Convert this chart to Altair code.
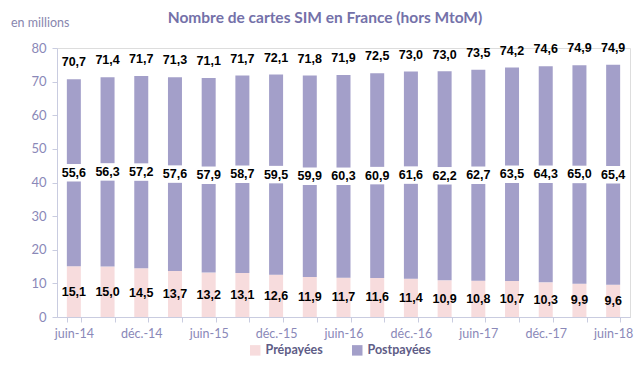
import altair as alt
import pandas as pd

periods = ["juin-14", "sept.-14", "déc.-14", "mars-15", "juin-15", "sept.-15", "déc.-15",
           "mars-16", "juin-16", "sept.-16", "déc.-16", "mars-17", "juin-17", "sept.-17",
           "déc.-17", "mars-18", "juin-18"]
shown_labels = ["juin-14", "déc.-14", "juin-15", "déc.-15", "juin-16", "déc.-16",
                "juin-17", "déc.-17", "juin-18"]
prepaid = [15.1, 15.0, 14.5, 13.7, 13.2, 13.1, 12.6, 11.9, 11.7, 11.6, 11.4, 10.9, 10.8, 10.7, 10.3, 9.9, 9.6]
postpaid = [55.6, 56.3, 57.2, 57.6, 57.9, 58.7, 59.5, 59.9, 60.3, 60.9, 61.6, 62.2, 62.7, 63.5, 64.3, 65.0, 65.4]
totals = [70.7, 71.4, 71.7, 71.3, 71.1, 71.7, 72.1, 71.8, 71.9, 72.5, 73.0, 73.0, 73.5, 74.2, 74.6, 74.9, 74.9]
y_ticks = [0, 10, 20, 30, 40, 50, 60, 70, 80]
series = ["Prépayées", "Postpayées"]
colors = ["#F7DCDD", "#A39FC9"]
title_text = "Nombre de cartes SIM en France (hors MtoM)"
unit_text = "en millions"

df = pd.DataFrame({"periode": periods, "Prépayées": prepaid, "Postpayées": postpaid, "total": totals})

label_font = "Lato"
axis_color = "#8A88B8"

xaxis = alt.Axis(
    labelAngle=0, tickBand="extent", labelFont=label_font, labelFontSize=12.5,
    labelColor=axis_color, domainColor="#C9CCE0", tickColor="#C9CCE0", tickSize=5,
    labelPadding=5,
    labelExpr="indexof(" + str(shown_labels) + ", datum.value) >= 0 ? datum.value : ''",
)
xscale = alt.Scale(paddingInner=0.58, paddingOuter=0.29)
yaxis = alt.Axis(values=y_ticks, tickCount=9, grid=False, labelFont=label_font,
                 labelFontSize=13, labelColor=axis_color, domainColor="#C9CCE0",
                 tickColor="#C9CCE0", tickSize=5, labelPadding=6,
                 labelOverlap=False, labelFlush=False)
yscale = alt.Scale(domain=[0, 80])


def X():
    return alt.X("periode:N", sort=periods, title=None, scale=xscale, axis=xaxis)


def Y(field, **kw):
    return alt.Y(field, scale=yscale, title=None, axis=yaxis, **kw)


base = alt.Chart(df)

bars = base.transform_fold(series, as_=["type", "val"]).transform_calculate(
    ord="datum.type == 'Prépayées' ? 0 : 1"
).mark_bar(size=14).encode(
    x=X(),
    y=Y("val:Q", stack="zero"),
    color=alt.Color("type:N", scale=alt.Scale(domain=series, range=colors),
                    legend=alt.Legend(title=None, orient="none", direction="horizontal",
                                      legendX=192, legendY=296, symbolType="square",
                                      symbolSize=110, symbolStrokeWidth=0,
                                      labelFont=label_font, labelFontSize=12.5,
                                      labelFontWeight="bold", labelColor="#5E5C86",
                                      columnPadding=28)),
    order=alt.Order("ord:Q"),
)

calc = base.transform_calculate(
    mid="datum['Prépayées'] + datum['Postpayées'] / 2",
    lo="datum['Prépayées'] + datum['Postpayées'] / 2 - 2.6",
    hi="datum['Prépayées'] + datum['Postpayées'] / 2 + 2.6",
    pmid="datum['Prépayées'] / 2",
    tpost="replace(format(datum['Postpayées'], '.1f'), '.', ',')",
    tpre="replace(format(datum['Prépayées'], '.1f'), '.', ',')",
    ttot="replace(format(datum.total, '.1f'), '.', ',')",
)

boxes = calc.mark_bar(size=18, color="white").encode(x=X(), y=Y("lo:Q"), y2="hi:Q")

txt_style = dict(font="Liberation Sans", fontSize=12.5, fontWeight="bold", color="black", baseline="middle")

post_lbl = calc.mark_text(**txt_style).encode(x=X(), y=Y("mid:Q"), text="tpost:N")
pre_lbl = calc.mark_text(**txt_style).encode(x=X(), y=Y("pmid:Q"), text="tpre:N")
tot_lbl = calc.mark_text(dy=-17, **txt_style).encode(x=X(), y=Y("total:Q"), text="ttot:N")

title = alt.Chart(pd.DataFrame({"t": [title_text]})).mark_text(
    font="Lato", fontSize=15.5, fontWeight="bold", color="#7471A9", baseline="middle", align="center"
).encode(text="t:N", x=alt.value(268), y=alt.value(-30))

unit = alt.Chart(pd.DataFrame({"t": [unit_text]})).mark_text(
    font="Lato", fontSize=12.5, color="#8886AE", baseline="middle", align="left"
).encode(text="t:N", x=alt.value(-46), y=alt.value(-25))

chart = alt.layer(bars, boxes, post_lbl, pre_lbl, tot_lbl, title, unit).properties(
    width=573, height=269,
    autosize=alt.AutoSizeParams(type="none"),
    padding={"left": 49, "top": 40, "right": 5, "bottom": 45},
).configure_view(stroke=None).configure(background="white")

chart.save("out.html", embed_options={"renderer": "svg", "actions": False})
